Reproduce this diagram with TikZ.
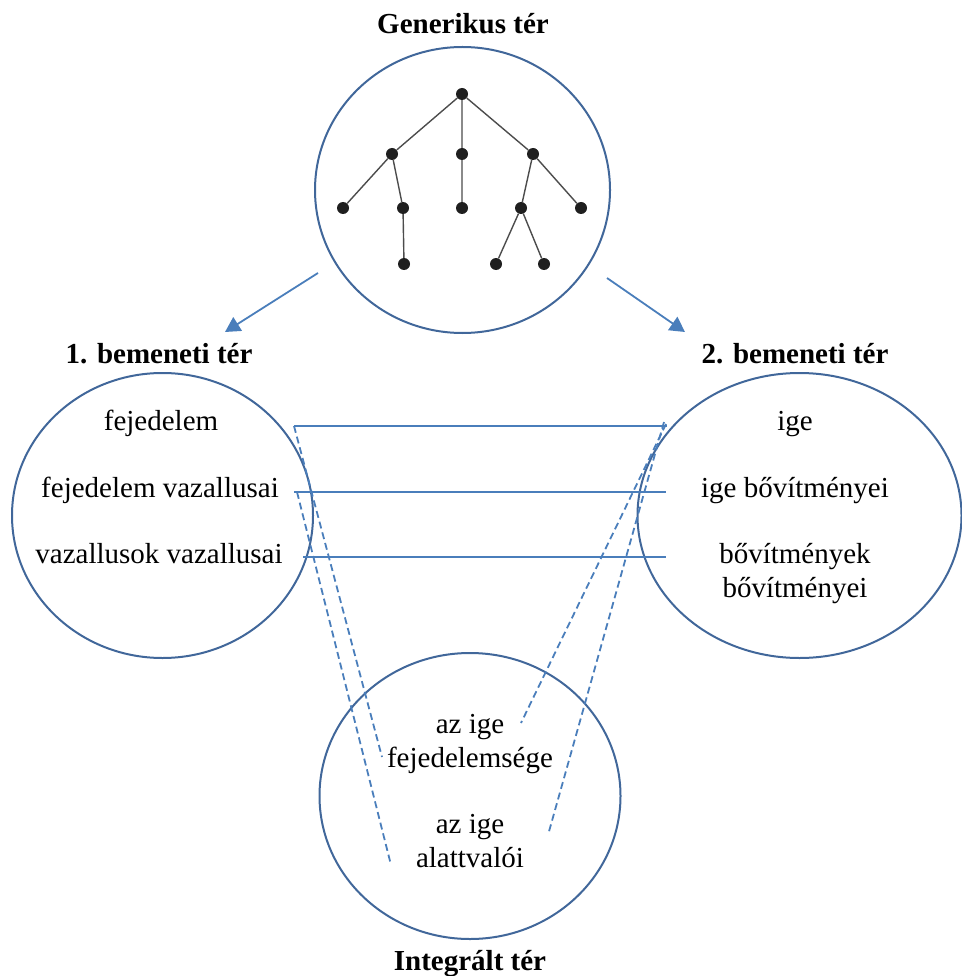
\documentclass[tikz,border=0pt]{standalone}
\usepackage{fontspec}
\setmainfont{Liberation Serif}
\usetikzlibrary{arrows.meta}
\definecolor{korkek}{HTML}{41679A}
\definecolor{vonalkek}{HTML}{4A7EBB}
\tikzset{
  ter/.style={draw=korkek, line width=2pt},
  cim/.style={font=\bfseries\fontsize{29}{34}\selectfont, anchor=base, inner sep=0pt},
  elem/.style={font=\fontsize{29}{34}\selectfont, anchor=base, inner sep=0pt},
  pont/.style={circle, fill=black!88, inner sep=0pt, minimum size=12pt},
  ag/.style={draw=black!70, line width=1.4pt},
  kapcs/.style={draw=vonalkek, line width=1.8pt},
  szagg/.style={kapcs, dash pattern=on 7pt off 4pt},
  nyil/.style={kapcs, -{Triangle[length=15pt,width=16pt]}, fill=vonalkek}
}
\begin{document}
\begin{tikzpicture}[x=1pt,y=-1pt]
    \useasboundingbox (0,0) rectangle (961,976);
    % terek
    \draw[ter] (462.5,190) ellipse (147.5 and 143);
    \draw[ter] (162.5,515.5) ellipse (150.5 and 142.5);
    \draw[ter] (799.5,515.5) ellipse (162 and 142.5);
    \draw[ter] (470,796) ellipse (150.5 and 143);

    \node[cim] (gen) at (463,34) {Generikus tér};
    \node[cim] (be1) at (159,363) {1. bemeneti tér};
    \node[cim] (be2) at (795,363) {2. bemeneti tér};
    \node[cim] (int) at (470,970) {Integrált tér};

    % fa
    \node[pont] (r) at (462,94) {};
    \node[pont] (a) at (392,154) {};
    \node[pont] (b) at (462,154) {};
    \node[pont] (c) at (533,154) {};
    \node[pont] (a1) at (343,208) {};
    \node[pont] (a2) at (403,208) {};
    \node[pont] (b1) at (462,208) {};
    \node[pont] (c1) at (521,208) {};
    \node[pont] (c2) at (581,208) {};
    \node[pont] (a21) at (404,264) {};
    \node[pont] (c11) at (496,264) {};
    \node[pont] (c12) at (544,264) {};
    \draw[ag] (r)--(a) (r)--(b) (r)--(c) (a)--(a1) (a)--(a2) (a2)--(a21)
        (b)--(b1) (c)--(c1) (c)--(c2) (c1)--(c11) (c1)--(c12);

    % nyilak
    \coordinate (n1) at (318,273);
    \coordinate (n1v) at (225,332);
    \coordinate (n2) at (607,278);
    \coordinate (n2v) at (685,332);
    \draw[nyil] (n1)--(n1v);
    \draw[nyil] (n2)--(n2v);

    % elemek
    \node[elem] (fej) at (161,430) {fejedelem};
    \node[elem] (vaz) at (160,497) {fejedelem vazallusai};
    \node[elem] (vv) at (159,563) {vazallusok vazallusai};
    \node[elem] (ige) at (795,430) {ige};
    \node[elem] (bov) at (795,497) {ige bővítményei};
    \node[elem] (bb1) at (795,563) {bővítmények};
    \node[elem] (bb2) at (795,597) {bővítményei};
    \node[elem] (i1) at (470,733) {az ige};
    \node[elem] (i2) at (470,767) {fejedelemsége};
    \node[elem] (i3) at (470,833) {az ige};
    \node[elem] (i4) at (470,867) {alattvalói};

    % megfeleltetesek
    \coordinate (b1f) at (294,426);
    \coordinate (b1m) at (294,492);
    \coordinate (b1a) at (303,557);
    \coordinate (b2f) at (667,426);
    \coordinate (b2m) at (666,492);
    \coordinate (b2a) at (666,557);
    \draw[kapcs] (b1f)--(b2f);
    \draw[kapcs] (b1m)--(b2m);
    \draw[kapcs] (b1a)--(b2a);

    \coordinate (s1) at (382,757);
    \coordinate (s2) at (391,865);
    \coordinate (s3) at (521,723);
    \coordinate (s4) at (548,835);
    \draw[szagg] (b1f)--(s1);
    \draw[szagg] ([xshift=3pt]b1m)--(s2);
    \draw[szagg] ([xshift=-1pt,yshift=2pt]b2f)--(s3);
    \draw[szagg] ([xshift=-3pt,yshift=4pt]b2f)--(s4);
\end{tikzpicture}
\end{document}
